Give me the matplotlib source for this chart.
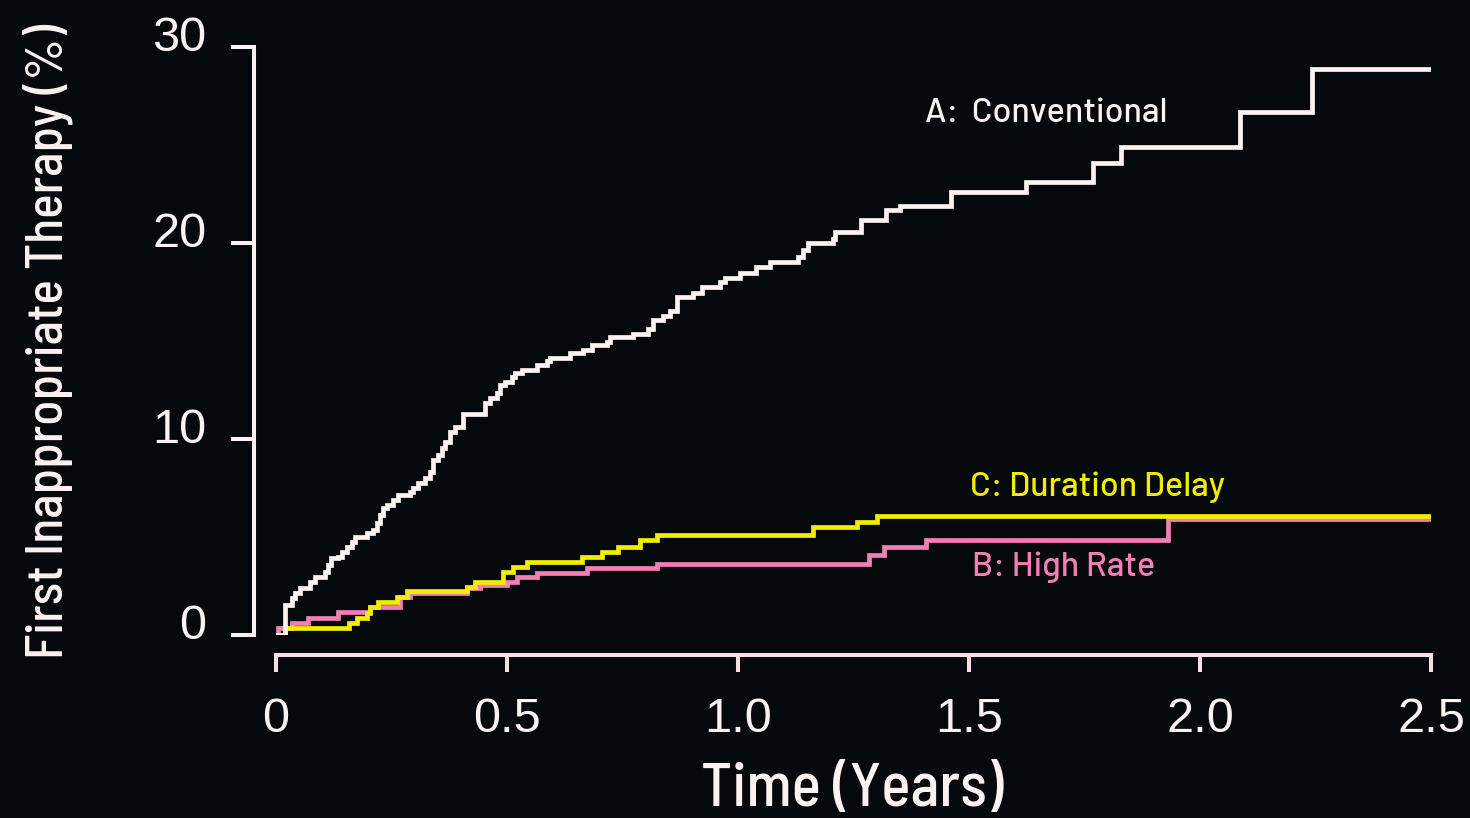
import matplotlib
matplotlib.use("Agg")
import matplotlib.pyplot as plt
from matplotlib.transforms import ScaledTranslation

# ---- data ----
conv_t = [0, 0.019, 0.034, 0.041, 0.052, 0.074, 0.084, 0.106, 0.113, 0.12,
          0.135, 0.142, 0.153, 0.164, 0.171, 0.196, 0.211, 0.218, 0.225, 0.232,
          0.24, 0.254, 0.265, 0.29, 0.297, 0.308, 0.323, 0.333, 0.34, 0.351,
          0.359, 0.366, 0.377, 0.387, 0.405, 0.452, 0.463, 0.478, 0.485, 0.496,
          0.51, 0.517, 0.532, 0.564, 0.586, 0.593, 0.636, 0.665, 0.683, 0.716,
          0.723, 0.773, 0.806, 0.817, 0.838, 0.853, 0.867, 0.903, 0.921, 0.961,
          0.972, 1.004, 1.04, 1.069, 1.13, 1.141, 1.152, 1.206, 1.21, 1.267,
          1.32, 1.351, 1.461, 1.623, 1.768, 1.829, 2.087, 2.243, 2.5]
conv_y = [0, 1.53, 1.87, 2.13, 2.38, 2.72, 2.98, 3.23, 3.57, 3.91,
          4.0, 4.25, 4.51, 4.76, 5.0, 5.2, 5.36, 5.7, 6.1, 6.46,
          6.63, 6.89, 7.14, 7.31, 7.48, 7.74, 8.0, 8.33, 8.93, 9.18,
          9.52, 9.86, 10.38, 10.63, 11.3, 11.82, 12.07, 12.33, 12.76, 12.93,
          13.18, 13.35, 13.52, 13.78, 14.0, 14.15, 14.37, 14.56, 14.8, 14.97,
          15.2, 15.38, 15.6, 16.07, 16.28, 16.55, 17.26, 17.43, 17.77, 18.03,
          18.24, 18.49, 18.76, 19.05, 19.3, 19.64, 20.0, 20.2, 20.57, 21.2,
          21.7, 21.9, 22.6, 23.1, 24.1, 24.9, 26.7, 28.9, 28.9]

high_t = [0, 0.004, 0.034, 0.07, 0.135, 0.203, 0.268, 0.29, 0.413, 0.442,
          0.499, 0.521, 0.564, 0.673, 0.824, 1.284, 1.317, 1.406, 1.93, 2.5]
high_y = [0, 0.34, 0.6, 0.85, 1.19, 1.44, 1.95, 2.13, 2.38, 2.55,
          2.72, 2.98, 3.15, 3.4, 3.6, 4.08, 4.5, 4.85, 5.9, 5.9]

dur_t = [0, 0.019, 0.157, 0.175, 0.196, 0.203, 0.221, 0.261, 0.283, 0.413,
         0.431, 0.492, 0.514, 0.543, 0.662, 0.705, 0.741, 0.788, 0.824, 1.162,
         1.257, 1.301, 2.5]
dur_y = [0, 0.34, 0.6, 0.85, 1.1, 1.44, 1.7, 1.95, 2.25, 2.43,
         2.72, 3.23, 3.49, 3.74, 4.0, 4.25, 4.51, 4.85, 5.1, 5.53,
         5.78, 6.09, 6.09]

x_ticks = [0, 0.5, 1.0, 1.5, 2.0, 2.5]
x_ticklabels = ["0", "0.5", "1.0", "1.5", "2.0", "2.5"]
y_ticks = [0, 10, 20, 30]
y_ticklabels = ["0", "10", "20", "30"]

labels = ["A:  Conventional", "B: High Rate", "C: Duration Delay"]

# ---- style ----
BG = "#05090b"
WHITE = "#fdf2f2"
PINK = "#f47fb6"
YELLOW = "#f2ee00"
AXIS_X = "#f9dfe4"

narrow = ["Barlow Semi Condensed", "DejaVu Sans"]
annot = ["Barlow", "DejaVu Sans"]
plain = ["Liberation Sans", "DejaVu Sans"]

fig = plt.figure(figsize=(14.7, 8.18), dpi=100, facecolor=BG)
ax = fig.add_axes([0.18776, 0.2237, 0.78571, 0.7188], facecolor=BG)

ax.step(high_t, high_y, where="post", color=PINK, lw=3.4, solid_joinstyle="miter", zorder=3)
ax.step(dur_t, dur_y, where="post", color=YELLOW, lw=3.4, solid_joinstyle="miter", zorder=4)
ax.step(conv_t, conv_y, where="post", color=WHITE, lw=3.4, solid_joinstyle="miter", zorder=5)

ax.set_xlim(0, 2.5)
ax.set_ylim(0, 30)

for s in ["top", "right"]:
    ax.spines[s].set_visible(False)
ax.spines["left"].set_position(("outward", 15.8))
ax.spines["bottom"].set_position(("outward", 14.4))
ax.spines["left"].set_bounds(0, 30)
ax.spines["bottom"].set_bounds(0, 2.5)
ax.spines["left"].set_color(WHITE)
ax.spines["bottom"].set_color(AXIS_X)
ax.spines["left"].set_linewidth(2.9)
ax.spines["bottom"].set_linewidth(2.9)
ax.spines["left"].set_capstyle("projecting")
ax.spines["bottom"].set_capstyle("projecting")

ax.set_xticks(x_ticks)
ax.set_xticklabels(x_ticklabels, fontfamily=plain, fontsize=35, color=WHITE)
ax.set_yticks(y_ticks)
ax.set_yticklabels(y_ticklabels, fontfamily=plain, fontsize=35, color=WHITE)
ax.tick_params(axis="x", length=12, width=2.9, color=AXIS_X, pad=18, direction="out")
ax.tick_params(axis="y", length=16.5, width=2.9, color=WHITE, pad=18, direction="out")

# y tick labels sit slightly above their ticks in the reference
shift = ScaledTranslation(0, 0.14, fig.dpi_scale_trans)
for lab in ax.get_yticklabels():
    lab.set_transform(lab.get_transform() + shift)

ax.set_xlabel("Time (Years)", fontfamily=narrow, fontsize=44, fontweight="medium", color=WHITE)
ax.xaxis.set_label_coords(0.4987, -0.2636)
ax.xaxis.label.set_va("center")
ax.set_ylabel("First Inappropriate Therapy (%)", fontfamily=narrow, fontsize=37,
              fontweight="medium", color=WHITE)
ax.yaxis.set_label_coords(-0.198, 0.50)
ax.yaxis.label.set_va("center")

ax.text(1.405, 26.6, labels[0], color=WHITE, fontfamily=annot, fontsize=24.5,
        fontweight="medium", ha="left", va="center")
ax.text(1.506, 3.47, labels[1], color=PINK, fontfamily=annot, fontsize=24.5,
        fontweight="medium", ha="left", va="center")
ax.text(1.502, 7.55, labels[2], color=YELLOW, fontfamily=annot, fontsize=24.5,
        fontweight="medium", ha="left", va="center")

fig.savefig("out.png", dpi=100, facecolor=BG)
